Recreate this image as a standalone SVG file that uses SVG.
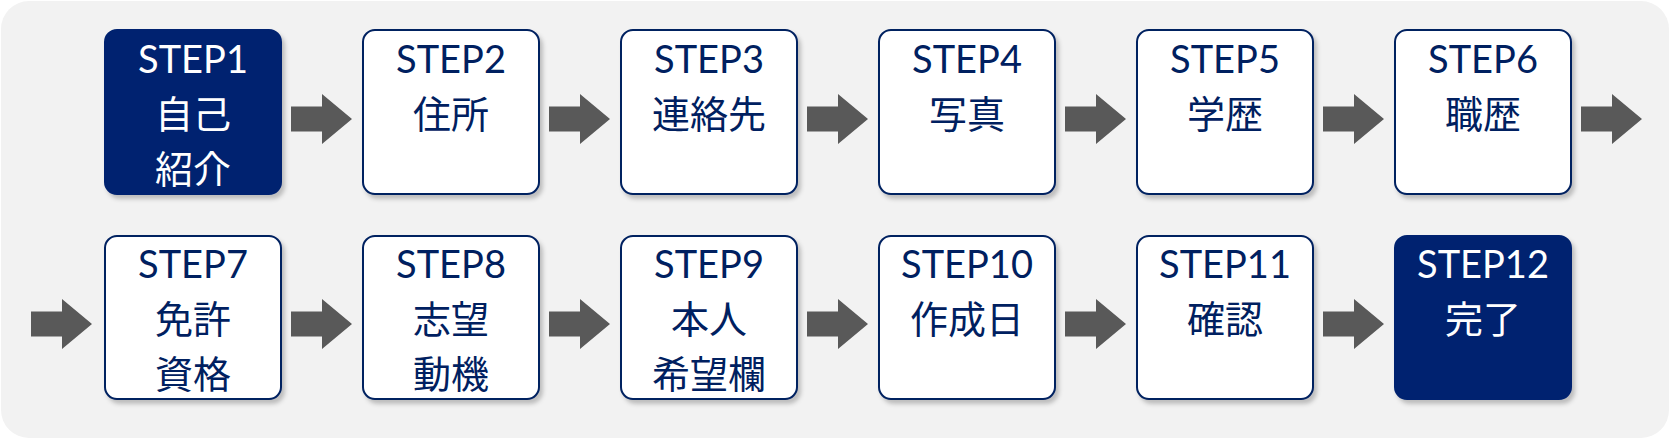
<svg xmlns="http://www.w3.org/2000/svg" xmlns:xlink="http://www.w3.org/1999/xlink" width="1670" height="439" viewBox="0 0 1670 439">
<style>
.box{fill:#ffffff;stroke:#002060;stroke-width:2;filter:url(#sh)}
.dark{fill:#00236F;stroke:#00236F;stroke-width:2;filter:url(#sh)}
.t{font-family:Lato,"Noto Sans CJK JP",sans-serif;font-size:38px;text-anchor:middle;fill:#002060}
.tw{fill:#ffffff}
.arr{fill:#595959}
</style>
<defs>
<filter id="sh" x="-10%" y="-10%" width="125%" height="125%">
<feDropShadow dx="3" dy="4" stdDeviation="2" flood-color="#000" flood-opacity="0.22"/>
</filter>
<path id="arrow" class="arr" d="M0,-12.5 H31 V-25 L61,0 L31,25 V12.5 H0 Z"/>
</defs>
<rect x="1" y="1" width="1668" height="437" rx="28" fill="#F2F2F2"/>
<g id="connectors">
<use xlink:href="#arrow" transform="translate(291,119)"/>
<use xlink:href="#arrow" transform="translate(549,119)"/>
<use xlink:href="#arrow" transform="translate(807,119)"/>
<use xlink:href="#arrow" transform="translate(1065,119)"/>
<use xlink:href="#arrow" transform="translate(1323,119)"/>
<use xlink:href="#arrow" transform="translate(1581,119)"/>
<use xlink:href="#arrow" transform="translate(31,324)"/>
<use xlink:href="#arrow" transform="translate(291,324)"/>
<use xlink:href="#arrow" transform="translate(549,324)"/>
<use xlink:href="#arrow" transform="translate(807,324)"/>
<use xlink:href="#arrow" transform="translate(1065,324)"/>
<use xlink:href="#arrow" transform="translate(1323,324)"/>
</g>
<g id="step1"><rect class="dark" x="105" y="30" width="176" height="164" rx="12"/>
<text class="t tw" x="193" y="73">STEP1</text><text class="t tw" x="193" y="128">自己</text><text class="t tw" x="193" y="183">紹介</text></g>
<g id="step2"><rect class="box" x="363" y="30" width="176" height="164" rx="12"/>
<text class="t" x="451" y="73">STEP2</text><text class="t" x="451" y="128">住所</text></g>
<g id="step3"><rect class="box" x="621" y="30" width="176" height="164" rx="12"/>
<text class="t" x="709" y="73">STEP3</text><text class="t" x="709" y="128">連絡先</text></g>
<g id="step4"><rect class="box" x="879" y="30" width="176" height="164" rx="12"/>
<text class="t" x="967" y="73">STEP4</text><text class="t" x="967" y="128">写真</text></g>
<g id="step5"><rect class="box" x="1137" y="30" width="176" height="164" rx="12"/>
<text class="t" x="1225" y="73">STEP5</text><text class="t" x="1225" y="128">学歴</text></g>
<g id="step6"><rect class="box" x="1395" y="30" width="176" height="164" rx="12"/>
<text class="t" x="1483" y="73">STEP6</text><text class="t" x="1483" y="128">職歴</text></g>
<g id="step7"><rect class="box" x="105" y="236" width="176" height="163" rx="12"/>
<text class="t" x="193" y="278">STEP7</text><text class="t" x="193" y="333">免許</text><text class="t" x="193" y="388">資格</text></g>
<g id="step8"><rect class="box" x="363" y="236" width="176" height="163" rx="12"/>
<text class="t" x="451" y="278">STEP8</text><text class="t" x="451" y="333">志望</text><text class="t" x="451" y="388">動機</text></g>
<g id="step9"><rect class="box" x="621" y="236" width="176" height="163" rx="12"/>
<text class="t" x="709" y="278">STEP9</text><text class="t" x="709" y="333">本人</text><text class="t" x="709" y="388">希望欄</text></g>
<g id="step10"><rect class="box" x="879" y="236" width="176" height="163" rx="12"/>
<text class="t" x="967" y="278">STEP10</text><text class="t" x="967" y="333">作成日</text></g>
<g id="step11"><rect class="box" x="1137" y="236" width="176" height="163" rx="12"/>
<text class="t" x="1225" y="278">STEP11</text><text class="t" x="1225" y="333">確認</text></g>
<g id="step12"><rect class="dark" x="1395" y="236" width="176" height="163" rx="12"/>
<text class="t tw" x="1483" y="278">STEP12</text><text class="t tw" x="1483" y="333">完了</text></g>
</svg>
